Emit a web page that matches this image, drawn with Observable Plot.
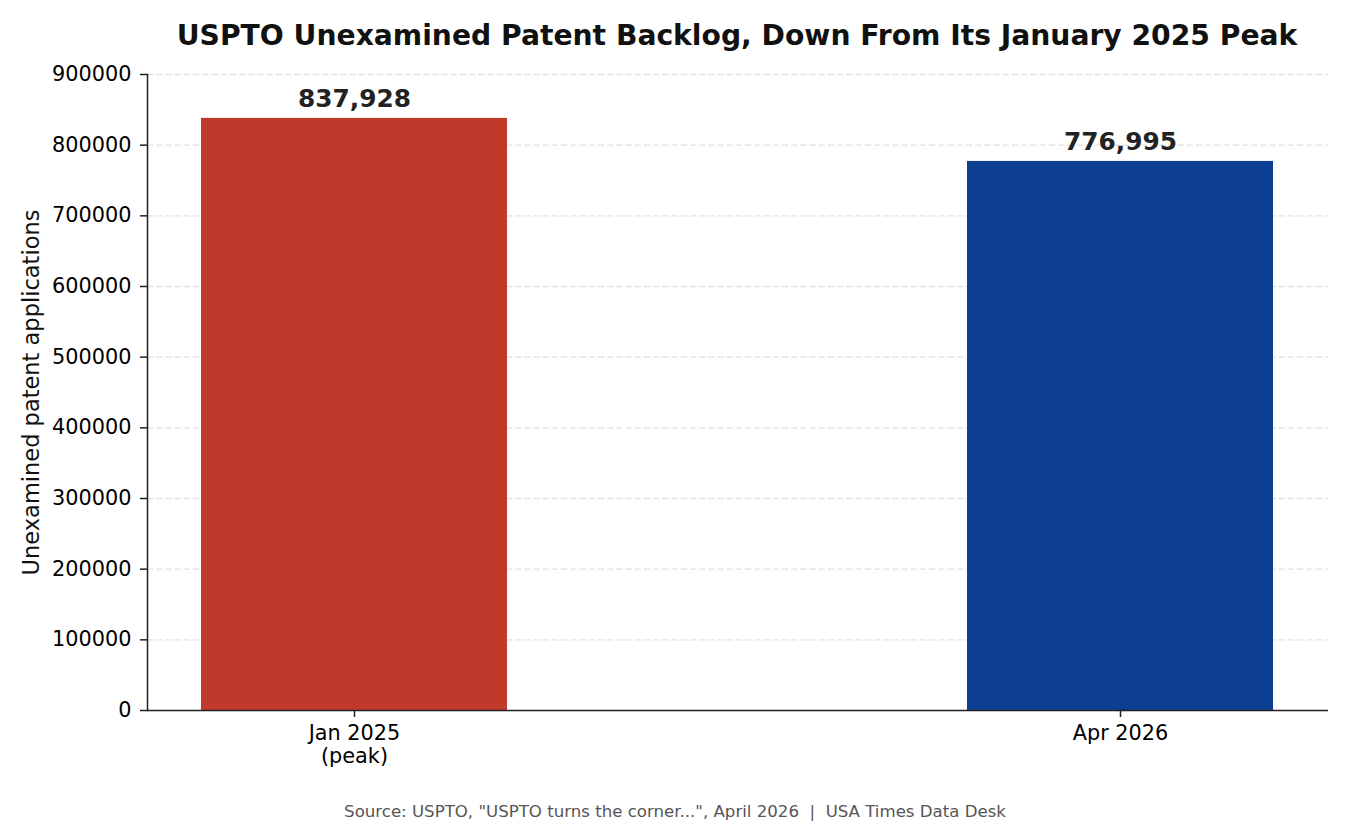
<!DOCTYPE html>
<html>
<head>
<meta charset="utf-8">
<script src="https://cdn.jsdelivr.net/npm/d3@7"></script>
<script src="https://cdn.jsdelivr.net/npm/@observablehq/plot@0.6"></script>
<style>
  body { margin: 0; background: #fff; font-family: "DejaVu Sans", sans-serif; }
  #title { width: 1350px; height: 60px; box-sizing: border-box; padding-left: 124px; text-align: center;
           font-weight: bold; font-size: 28.2px; color: #111; line-height: 72px; white-space: nowrap; }
  #caption { width: 1350px; text-align: center; font-size: 16.6px; color: #555; margin-top: 17px; }
</style>
</head>
<body>
<div id="title">USPTO Unexamined Patent Backlog, Down From Its January 2025 Peak</div>
<div id="chart"></div>
<div id="caption">Source: USPTO, "USPTO turns the corner...", April 2026 &nbsp;|&nbsp; USA Times Data Desk</div>
<script>
const categories = ["Jan 2025\n(peak)", "Apr 2026"];
const values = [837928, 776995];
const colors = ["#c0392b", "#0c3f92"];
const yTicks = [0, 100000, 200000, 300000, 400000, 500000, 600000, 700000, 800000, 900000];

const data = categories.map((c, i) => ({cat: c, value: values[i], color: colors[i]}));

const chart = Plot.plot({
  width: 1350,
  height: 725,
  marginLeft: 147,
  marginRight: 22,
  marginTop: 14,
  marginBottom: 75,
  style: {fontFamily: "DejaVu Sans, sans-serif", fontSize: "20.8px", color: "#000", background: "#fff"},
  x: {domain: categories, paddingInner: 0.6, paddingOuter: 0.0705, align: 0.5},
  y: {domain: [0, 900000]},
  marks: [
    Plot.gridY(yTicks, {stroke: "#e2e2e2", strokeOpacity: 1, strokeDasharray: "6.5,2.7", strokeWidth: 1.3}),
    Plot.barY(data, {x: "cat", y: "value", fill: "color"}),
    Plot.text(data, {x: "cat", y: "value", text: d => d3.format(",")(d.value), dy: -19,
      fontWeight: "bold", fontSize: 24.8, fill: "#222"}),
    Plot.axisY({ticks: yTicks, tickFormat: d3.format("d"), tickSize: 7, tickPadding: 9,
      stroke: "#222", strokeWidth: 1.5, fontSize: 20.8, fill: "#000", label: null}),
    Plot.text(["Unexamined patent applications"], {frameAnchor: "left", dx: -116, rotate: -90,
      fontSize: 22.5, fill: "#111", textAnchor: "middle"}),
    Plot.axisX({tickSize: 7, tickPadding: 6, stroke: "#222", strokeWidth: 1.5, fontSize: 20.8, fill: "#000", label: null, lineHeight: 1.1}),
    Plot.frame({anchor: "left", stroke: "#222", strokeWidth: 1.5}),
    Plot.ruleY([0], {stroke: "#222", strokeWidth: 1.5})
  ]
});
document.getElementById("chart").appendChild(chart);
</script>
</body>
</html>
